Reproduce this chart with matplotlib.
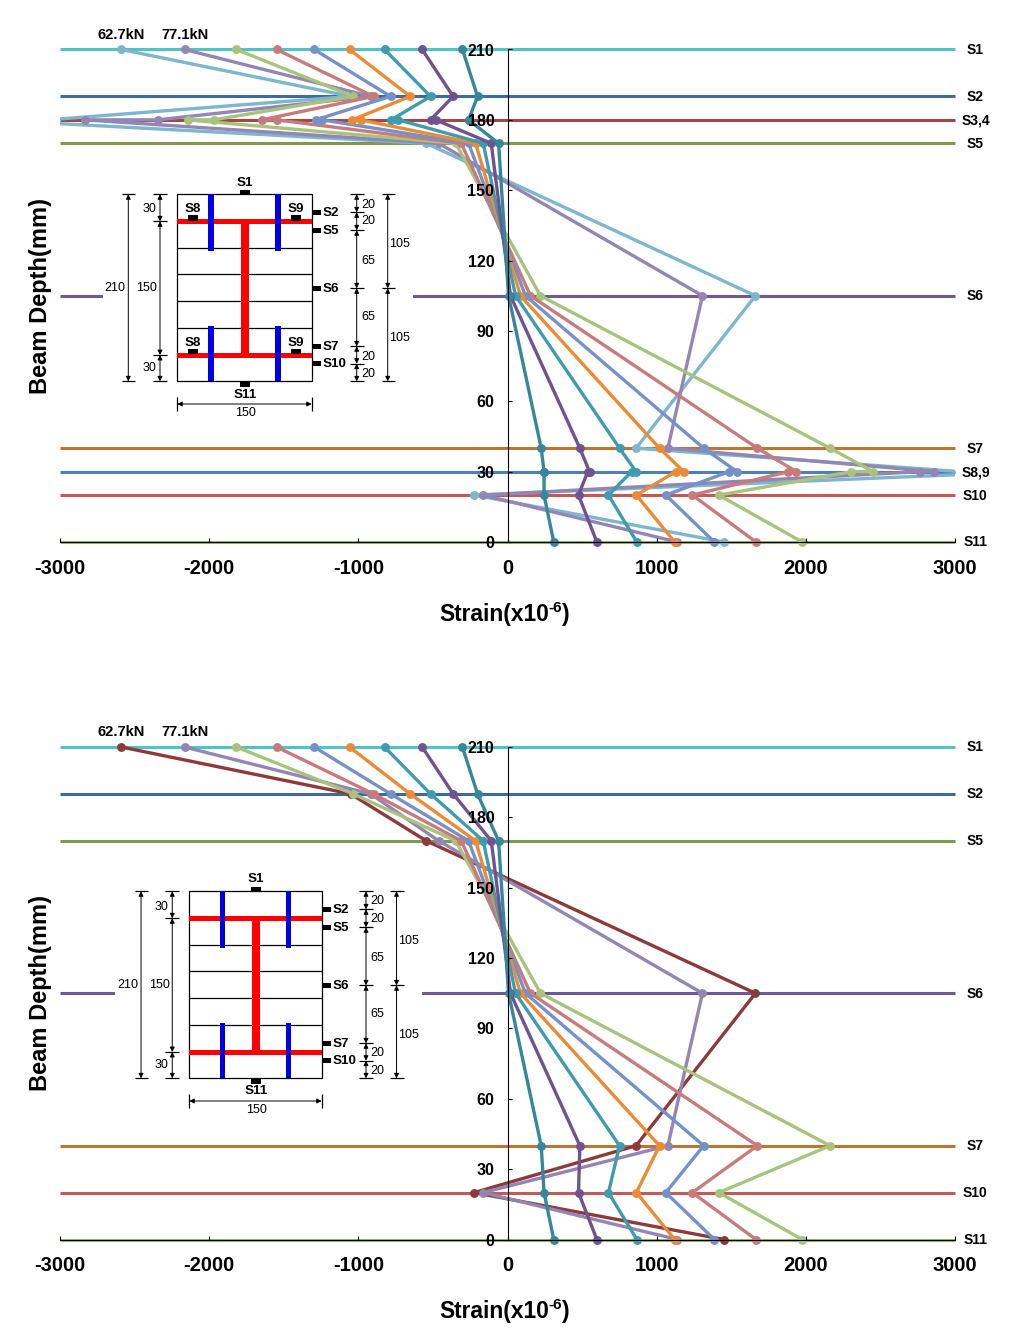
import matplotlib
matplotlib.use("Agg")
import matplotlib.pyplot as plt
from matplotlib.patches import Rectangle
from matplotlib.transforms import Bbox, TransformedBbox

W, H = 1017, 1329
plt.rcParams['font.family'] = ['Liberation Sans', 'DejaVu Sans']
plt.rcParams['axes.unicode_minus'] = False

# gauge depth (mm), in order along each load curve
gauge_names = ['S1', 'S2', 'S3', 'S4', 'S5', 'S6', 'S7', 'S8', 'S9', 'S10', 'S11']
depths = [210, 190, 180, 180, 170, 105, 40, 30, 30, 20, 0]

# strain per load step at gauges S1..S11
load_a = [-2589, -1052, -3080, -3480, -545, 1662, 862, 3040, 3500, -224, 1451]
load_b = [-2165, -918, -2346, -2833, -462, 1307, 1075, 2862, 2768, -164, 1139]
load_c = [-1818, -1034, -1970, -2145, -348, 221, 2163, 2450, 2306, 1417, 1976]
load_d = [-1548, -898, -1648, -1548, -310, 154, 1675, 1937, 1883, 1239, 1666]
load_e = [-1296, -784, -1287, -1242, -261, 120, 1315, 1539, 1486, 1061, 1387]
load_f = [-1059, -652, -1041, -985, -214, 87, 1019, 1181, 1128, 864, 1121]
load_g = [-824, -516, -780, -733, -163, 54, 751, 862, 832, 677, 867]
load_h = [-572, -364, -516, -482, -109, 20, 485, 550, 538, 476, 599]
load_i = [-302, -201, -261, -261, -60, 7, 226, 245, 245, 245, 310]
all_loads = [load_a, load_b, load_c, load_d, load_e, load_f, load_g, load_h, load_i]

colors_top = ['#7DB6CD', '#9385B4', '#A8C47C', '#C87B7B', '#7492C8', '#EC8B36',
              '#3F9BB0', '#70528F', '#35879B']
colors_bottom = ['#8C3A3A'] + colors_top[1:]

# horizontal gauge-level lines
levels_top = [210, 190, 180, 170, 105, 40, 30, 20, 0]
level_names_top = ['S1', 'S2', 'S3,4', 'S5', 'S6', 'S7', 'S8,9', 'S10', 'S11']
level_colors_top = ['#4FC3C6', '#3F6A9C', '#A04848', '#7F9A4E', '#6B5A96',
                    '#C0742F', '#4F7FBA', '#C25A57', '#9CBB5C']
levels_bottom = [210, 190, 170, 105, 40, 20, 0]
level_names_bottom = ['S1', 'S2', 'S5', 'S6', 'S7', 'S10', 'S11']
level_colors_bottom = ['#4FC3C6', '#3F6A9C', '#7F9A4E', '#6B5A96', '#C0742F', '#C25A57', '#9CBB5C']

x_ticks = [-3000, -2000, -1000, 0, 1000, 2000, 3000]
y_ticks = [0, 30, 60, 90, 120, 150, 180, 210]

fig = plt.figure(figsize=(W / 100, H / 100), dpi=100, facecolor='white')
renderer = fig.canvas.get_renderer()


def make_axes(top_px, bottom_px):
    ax = fig.add_axes([60 / W, 1 - bottom_px / H, (955 - 60) / W, (bottom_px - top_px) / H])
    ax.set_xlim(-3000, 3000)
    ax.set_ylim(0, 210)
    ax.patch.set_alpha(0)
    for s in ('top', 'right'):
        ax.spines[s].set_visible(False)
    ax.spines['left'].set_position(('data', 0))
    ax.spines['left'].set_linewidth(0.8)
    ax.spines['bottom'].set_linewidth(0.8)
    ax.set_axisbelow(False)
    ax.set_xticks(x_ticks)
    ax.set_yticks(y_ticks)
    ax.tick_params(axis='x', direction='in', length=3, width=0.8, pad=12)
    ax.tick_params(axis='y', direction='in', length=3, width=0.8, pad=9.5)
    for t in ax.get_xticklabels():
        t.set_fontweight('bold')
        t.set_fontsize(14.5)
    for t in ax.get_yticklabels():
        t.set_fontweight('bold')
        t.set_fontsize(11.5)
        t.set_y(t.get_position()[1])
    return ax


def draw_chart(ax, keep, colors, levels, names, lcolors, y0_px):
    clip = TransformedBbox(Bbox([[-3000, -20], [3000, 230]]), ax.transData)
    for lv, c in zip(levels, lcolors):
        l, = ax.plot([-3000, 3000], [lv, lv], color=c, lw=2.2, zorder=1.5, solid_capstyle='butt')
        l.set_clip_on(False)
    dep = [d for d, n in zip(depths, gauge_names) if n in keep]
    for vals, c in zip(all_loads, colors):
        v = [x for x, n in zip(vals, gauge_names) if n in keep]
        l, = ax.plot(v, dep, color=c, lw=2.4, marker='o', ms=6.4, mew=0, zorder=2)
        l.set_clip_box(clip)
    for lv, n in zip(levels, names):
        ax.text(3137, lv - 0.2, n, ha='center', va='center', fontsize=10,
                fontweight='bold', clip_on=False)
    ax.text(-2590, 216.2, '62.7kN', ha='center', va='center', fontsize=10.6, fontweight='bold')
    ax.text(-2160, 216.2, '77.1kN', ha='center', va='center', fontsize=10.6, fontweight='bold')
    ax.text(-3130, 105, 'Beam Depth(mm)', ha='center', va='center', rotation=90,
            fontsize=17, fontweight='bold')
    # axis title with a superscript, set piece by piece
    yb = 1 - (y0_px + 78.5) / H
    x = 439 / W
    for t, size, rise in (('Strain(x10', 16.4, 0.0), ('-6', 11, 0.0065), (')', 16.4, 0.0)):
        tx = fig.text(x, yb + rise, t, fontsize=size, fontweight='bold', ha='left', va='baseline')
        x = tx.get_window_extent(renderer).x1 / W


keep_top = gauge_names
keep_bottom = ['S1', 'S2', 'S5', 'S6', 'S7', 'S10', 'S11']

ax1 = make_axes(49.5, 542)
ax2 = make_axes(747, 1239.5)
draw_chart(ax1, keep_top, colors_top, levels_top, level_names_top, level_colors_top, 542)
draw_chart(ax2, keep_bottom, colors_bottom, levels_bottom, level_names_bottom, level_colors_bottom, 1239.5)

# section diagram, in pixel coordinates
ov = fig.add_axes([0, 0, 1, 1], zorder=10)
ov.set_xlim(0, W)
ov.set_ylim(H, 0)
ov.axis('off')
ov.patch.set_alpha(0)


def diagram(dx, dy, s, with_s89, box):
    X = lambda x: 177.3 + dx + (x - 177.3) * s
    Y = lambda y: y + dy
    ov.add_patch(Rectangle((box[0], Y(150)), box[1] - box[0], 275, fc='white', ec='none', zorder=1))

    def rect(x0, y0, x1, y1, c, z=3):
        ov.add_patch(Rectangle((X(x0), Y(y0)), X(x1) - X(x0), y1 - y0, fc=c, ec='none', zorder=z))

    def line(x0, y0, x1, y1, lw=0.9):
        ov.plot([X(x0), X(x1)], [Y(y0), Y(y1)], color='black', lw=lw, zorder=2, solid_capstyle='butt')

    def arrow(x0, y0, x1, y1):
        ov.annotate('', xy=(X(x1), Y(y1)), xytext=(X(x0), Y(y0)), zorder=2,
                    arrowprops=dict(arrowstyle='<|-|>', color='black', lw=0.7,
                                    mutation_scale=7, shrinkA=0, shrinkB=0))

    def label(x, y, t, bold=False, ha='center'):
        ov.text(X(x), Y(y) + 0.5, t, ha=ha, va='center', fontsize=9.6 if bold else 9,
                fontweight='bold' if bold else 'normal', zorder=5)

    # outline and layer lines
    ov.add_patch(Rectangle((X(177.3), Y(194.3)), X(311.7) - X(177.3), 187, fc='white', ec='black', lw=0.9, zorder=1.5))
    for y in (248.3, 274.3, 301.3, 328.3):
        line(177.3, y, 311.7, y)
    # blue stiffeners
    for x in (211, 278):
        rect(x - 2.9, 194.3, x + 2.9, 250.7, '#0000E6', 3.5)
        rect(x - 2.9, 326, x + 2.9, 381.3, '#0000E6', 3.5)
    # red section
    rect(177.3, 218.8, 311.7, 223.8, '#FF0000')
    rect(177.3, 352.5, 311.7, 357.5, '#FF0000')
    rect(241, 221, 249, 355, '#FF0000')
    # gauges
    rect(240, 190, 250, 194.3, 'black')
    rect(240, 381.3, 250, 386.7, 'black')
    for y, n in zip((212.3, 230.3, 288.3, 346.3, 363.7), ('S2', 'S5', 'S6', 'S7', 'S10')):
        rect(311.7, y - 2.5, 321, y + 2.5, 'black')
        label(322.7, y, n, True, 'left')
    label(245, 182, 'S1', True)
    label(245, 394, 'S11', True)
    if with_s89:
        for x, n in ((193, 'S8'), (296, 'S9')):
            rect(x - 5, 215.3, x + 5, 220.7, 'black')
            rect(x - 5, 349.3, x + 5, 354.3, 'black')
            label(x, 209, n, True)
            label(x, 342.7, n, True)
    # left dimensions
    for y in (194.3, 381.3):
        line(122, y, 135, y)
    arrow(128.3, 194.3, 128.3, 381.3)
    label(115, 287.3, '210')
    for y in (194.3, 221.3, 355, 381.3):
        line(153, y, 167, y)
    arrow(160, 194.3, 160, 221.3)
    arrow(160, 221.3, 160, 355)
    arrow(160, 355, 160, 381.3)
    label(149.3, 209, '30')
    label(146.7, 287.3, '150')
    label(149.3, 367.7, '30')
    # right dimensions
    ys = (194.3, 212.3, 230.3, 288.3, 346.3, 363.7, 381.3)
    for y in ys:
        line(349.5, y, 363.5, y)
    for a, b in zip(ys[:-1], ys[1:]):
        arrow(356.7, a, 356.7, b)
    for y, t in zip((204, 221, 260.7, 316.7, 356, 373.3), ('20', '20', '65', '65', '20', '20')):
        label(368, y, t, ha='center')
    for y in (194.3, 288.3, 381.3):
        line(381.5, y, 395, y)
    arrow(387.7, 194.3, 387.7, 288.3)
    arrow(387.7, 288.3, 387.7, 381.3)
    label(400, 243.3, '105')
    label(400, 337.3, '105')
    # bottom dimension
    line(177.3, 397, 177.3, 411)
    line(311.7, 397, 311.7, 411)
    arrow(177.3, 404, 311.7, 404)
    label(245.3, 412.3, '150')


diagram(0, 0, 1.0, True, (103, 413))
diagram(12, 697, 0.985, False, (115, 422))

fig.savefig('out.png', dpi=100)
